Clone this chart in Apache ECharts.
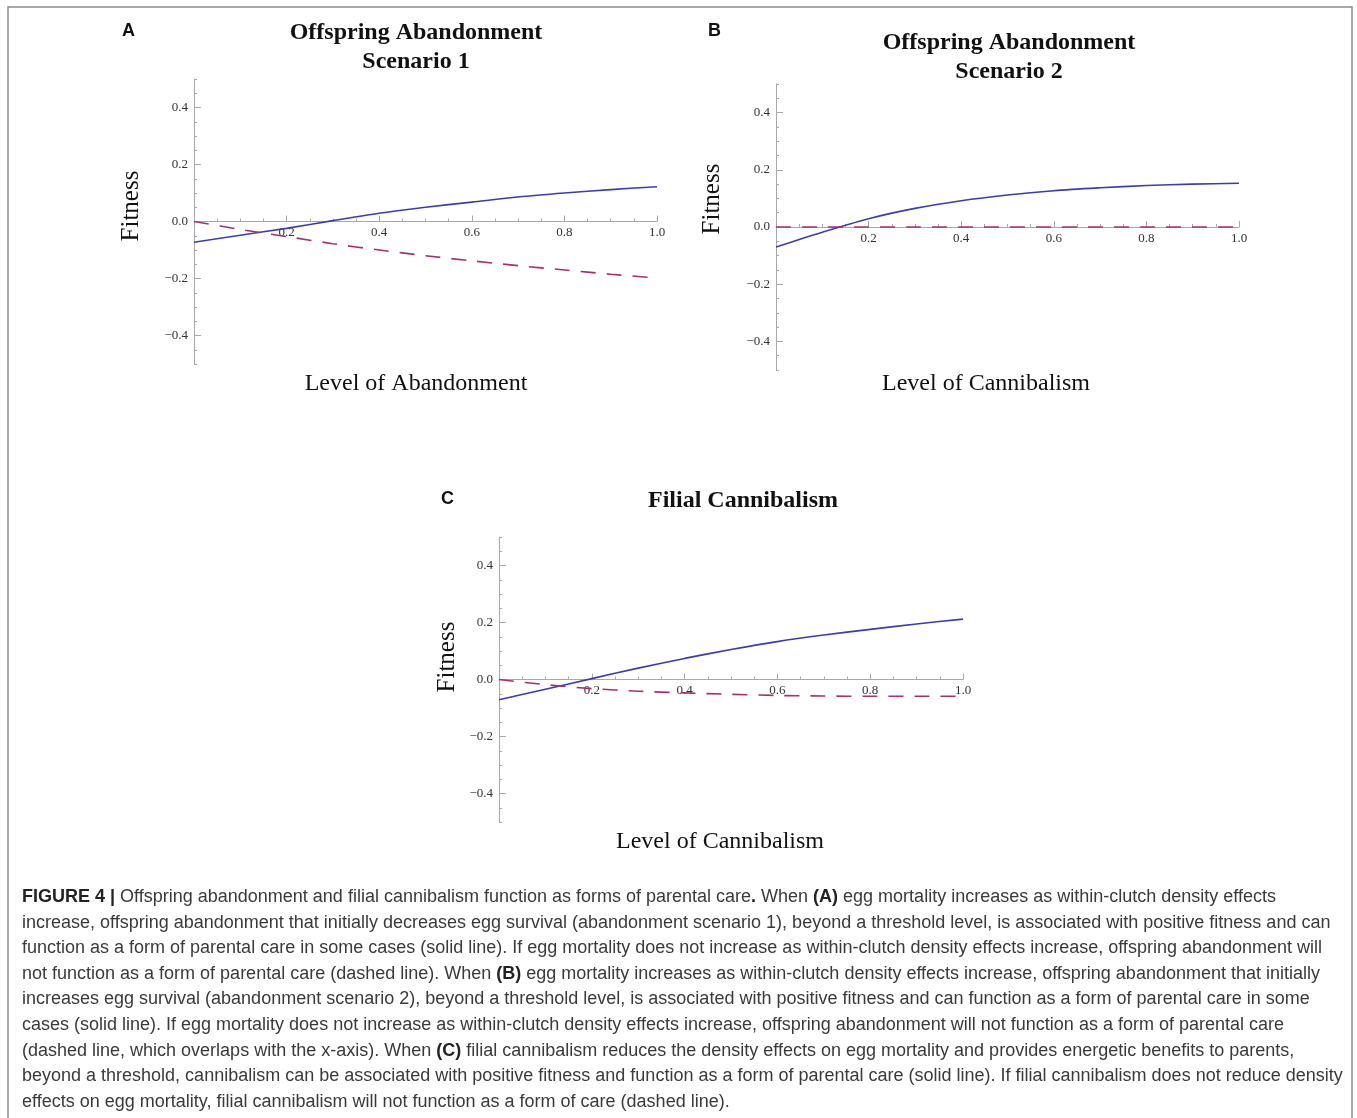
<!DOCTYPE html>
<html>
<head>
<meta charset="utf-8">
<script src="https://cdn.jsdelivr.net/npm/echarts@6/dist/echarts.min.js"></script>
<style>
  html, body { margin: 0; padding: 0; background: #fff; }
  #chart { width: 1357px; height: 1118px; }
</style>
</head>
<body>
<div id="chart"></div>
<script>
// level of abandonment / cannibalism
const levels = [0, 0.1, 0.2, 0.3, 0.4, 0.5, 0.6, 0.7, 0.8, 0.9, 1.0]

// A: offspring abandonment, scenario 1
const fitnessA_solid = [-0.073, -0.048, -0.024, 0.003, 0.029, 0.05, 0.068, 0.086, 0.1, 0.112, 0.122]
const fitnessA_dashed = [0, -0.028, -0.053, -0.078, -0.1, -0.12, -0.138, -0.155, -0.17, -0.185, -0.198]
// B: offspring abandonment, scenario 2
const fitnessB_solid = [-0.07, -0.018, 0.029, 0.065, 0.092, 0.112, 0.127, 0.137, 0.145, 0.15, 0.153]
const fitnessB_dashed = [0, 0, 0, 0, 0, 0, 0, 0, 0, 0, 0]
// C: filial cannibalism
const fitnessC_solid = [-0.071, -0.034, 0.003, 0.04, 0.074, 0.105, 0.133, 0.156, 0.176, 0.195, 0.212]
const fitnessC_dashed = [0, -0.018, -0.032, -0.041, -0.047, -0.052, -0.056, -0.058, -0.059, -0.059, -0.059]

const xTickLabels = [0.2, 0.4, 0.6, 0.8, 1.0]
const yTickLabels = [-0.4, -0.2, 0, 0.2, 0.4]

const panels = [
  { letter: 'A', title: 'Offspring Abandonment\nScenario 1', xName: 'Level of Abandonment', solid: fitnessA_solid, dashed: fitnessA_dashed,
    grid: { left: 194, top: 79, width: 463, height: 285 }, letterPos: [122, 22], titlePos: [416, 18], fitPos: [131, 206], xNamePos: [416, 384] },
  { letter: 'B', title: 'Offspring Abandonment\nScenario 2', xName: 'Level of Cannibalism', solid: fitnessB_solid, dashed: fitnessB_dashed,
    grid: { left: 776, top: 84, width: 463, height: 286 }, letterPos: [708, 22], titlePos: [1009, 28], fitPos: [712, 199], xNamePos: [986, 384] },
  { letter: 'C', title: 'Filial Cannibalism', xName: 'Level of Cannibalism', solid: fitnessC_solid, dashed: fitnessC_dashed,
    grid: { left: 499, top: 537, width: 464, height: 285 }, letterPos: [441, 490], titlePos: [743, 486], fitPos: [447, 657], xNamePos: [720, 842] }
]

const serif = '"Liberation Serif", "Times New Roman", serif'
const sans = '"Liberation Sans", Arial, sans-serif'
const axisGray = '#a8a8a8'

function fmt(v) {
  const s = Math.abs(v).toFixed(1)
  return v < -1e-9 ? '\u2212' + s : s
}

const grids = [], xAxes = [], yAxes = [], series = [], graphics = []

panels.forEach((p, i) => {
  grids.push(p.grid)
  // x axis sits at fitness = 0, which is the middle of the -0.5..0.5 range
  xAxes.push({
    type: 'value', gridIndex: i, position: 'bottom', offset: -p.grid.height / 2,
    min: 0, max: 1, interval: 0.2,
    axisLine: { onZero: false, lineStyle: { color: axisGray, width: 1 } },
    axisTick: { inside: true, length: 6, lineStyle: { color: axisGray } },
    minorTick: { show: true, splitNumber: 4, length: 3, lineStyle: { color: axisGray } },
    splitLine: { show: false },
    axisLabel: { customValues: xTickLabels, formatter: fmt, margin: 5, color: '#333', fontFamily: serif, fontSize: 13 }
  })
  // minor y ticks + axis line
  yAxes.push({
    type: 'value', gridIndex: i, position: 'left', min: -0.5, max: 0.5, interval: 0.05,
    axisLine: { show: true, onZero: false, lineStyle: { color: axisGray, width: 1 } },
    axisTick: { inside: true, length: 3, lineStyle: { color: axisGray } },
    axisLabel: { show: false },
    splitLine: { show: false }
  })
  // major y ticks + labels
  yAxes.push({
    type: 'value', gridIndex: i, position: 'left', min: -0.5, max: 0.5, interval: 0.1,
    axisLine: { show: false, onZero: false },
    axisTick: { inside: true, length: 7, customValues: yTickLabels, lineStyle: { color: axisGray } },
    axisLabel: { customValues: yTickLabels, formatter: fmt, margin: 6, color: '#333', fontFamily: serif, fontSize: 13 },
    splitLine: { show: false }
  })
  const xy = arr => levels.map((x, k) => [x, arr[k]])
  series.push({
    type: 'line', xAxisIndex: i, yAxisIndex: i * 2, data: xy(p.solid), smooth: 0.3,
    showSymbol: false, lineStyle: { color: '#3b3bb5', width: 1.6 }, z: 3
  })
  series.push({
    type: 'line', xAxisIndex: i, yAxisIndex: i * 2, data: xy(p.dashed), smooth: 0.3,
    showSymbol: false, lineStyle: { color: '#a3326f', width: 1.6, type: [15, 11] }, z: 4
  })

  graphics.push({ type: 'text', x: p.letterPos[0], y: p.letterPos[1],
    style: { text: p.letter, font: 'bold 18px ' + sans, fill: '#111' } })
  graphics.push({ type: 'text', x: p.titlePos[0], y: p.titlePos[1],
    style: { text: p.title, font: 'bold 24px ' + serif, fill: '#111', align: 'center', lineHeight: 29 } })
  graphics.push({ type: 'text', x: p.fitPos[0], y: p.fitPos[1], rotation: Math.PI / 2,
    style: { text: 'Fitness', font: '25px ' + serif, fill: '#111', align: 'center', verticalAlign: 'middle' } })
  graphics.push({ type: 'text', x: p.xNamePos[0], y: p.xNamePos[1],
    style: { text: p.xName, font: '24px ' + serif, fill: '#111', align: 'center', verticalAlign: 'middle' } })
})

// outer frame
graphics.push({ type: 'rect', shape: { x: 8, y: 7, width: 1344, height: 1130 },
  style: { fill: 'none', stroke: '#8a8a8a', lineWidth: 1.5 }, z: 0 })

const captionLines = [
  '{b|FIGURE 4 |} Offspring abandonment and filial cannibalism function as forms of parental care{b|.} When {b|(A)} egg mortality increases as within-clutch density effects',
  'increase, offspring abandonment that initially decreases egg survival (abandonment scenario 1), beyond a threshold level, is associated with positive fitness and can',
  'function as a form of parental care in some cases (solid line). If egg mortality does not increase as within-clutch density effects increase, offspring abandonment will',
  'not function as a form of parental care (dashed line). When {b|(B)} egg mortality increases as within-clutch density effects increase, offspring abandonment that initially',
  'increases egg survival (abandonment scenario 2), beyond a threshold level, is associated with positive fitness and can function as a form of parental care in some',
  'cases (solid line). If egg mortality does not increase as within-clutch density effects increase, offspring abandonment will not function as a form of parental care',
  '(dashed line, which overlaps with the x-axis). When {b|(C)} filial cannibalism reduces the density effects on egg mortality and provides energetic benefits to parents,',
  'beyond a threshold, cannibalism can be associated with positive fitness and function as a form of parental care (solid line). If filial cannibalism does not reduce density',
  'effects on egg mortality, filial cannibalism will not function as a form of care (dashed line).'
]
captionLines.forEach((line, k) => {
  graphics.push({ type: 'text', x: 22, y: 897 + k * 25.6,
    style: { text: line, font: '18px ' + sans, fill: '#3a3a3a', verticalAlign: 'middle',
      rich: { b: { fontWeight: 'bold', fontFamily: sans, fontSize: 18, fill: '#222' } } } })
})

const chart = echarts.init(document.getElementById('chart'))
chart.setOption({
  backgroundColor: '#fff',
  animation: false,
  grid: grids,
  xAxis: xAxes,
  yAxis: yAxes,
  series: series,
  graphic: graphics
})
</script>
</body>
</html>
